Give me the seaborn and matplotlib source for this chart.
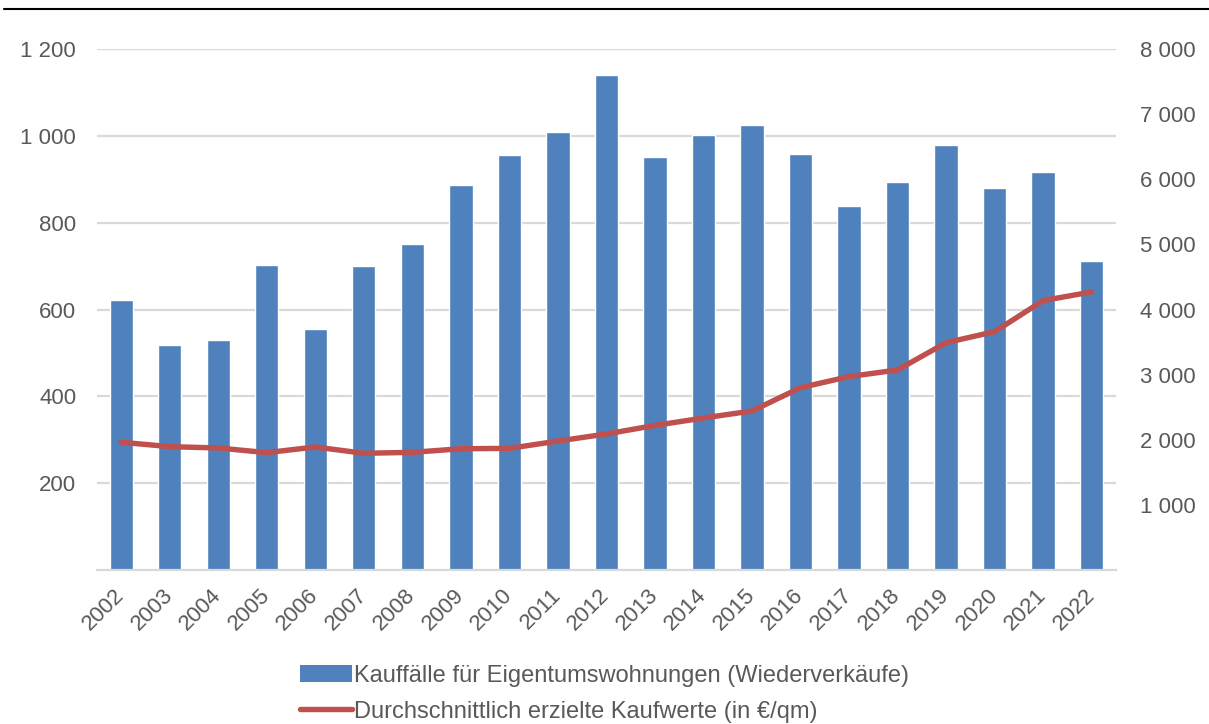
import numpy as np
import pandas as pd
import matplotlib
matplotlib.use("Agg")
import matplotlib.pyplot as plt
import seaborn as sns
from matplotlib.lines import Line2D
from matplotlib.patches import Patch

# =======================
# Data
# =======================
years = [str(y) for y in range(2002, 2023)]
sales = [621, 518, 529, 703, 555, 701, 752, 886, 956, 1008, 1141,
         952, 1002, 1025, 958, 839, 894, 978, 879, 917, 711]
prices = [1962, 1894, 1874, 1802, 1889, 1792, 1807, 1862, 1868, 1980, 2089,
          2220, 2334, 2442, 2800, 2970, 3072, 3491, 3660, 4137, 4270]
left_ticks = [200, 400, 600, 800, 1000, 1200]
right_ticks = [1000, 2000, 3000, 4000, 5000, 6000, 7000, 8000]
bar_label = "Kauffälle für Eigentumswohnungen (Wiederverkäufe)"
line_label = "Durchschnittlich erzielte Kaufwerte (in €/qm)"

df = pd.DataFrame({"year": years, "sales": sales, "price": prices})
df["pos"] = np.arange(len(df))

BLUE = "#4f81bd"
RED = "#c0504d"
GRID = "#d9d9d9"
TXT = "#595959"

sns.set_theme(style="white")
plt.rcParams["font.family"] = ["Liberation Sans", "DejaVu Sans"]


def fmt(v):
    return f"{v:,}".replace(",", " ")


# =======================
# Figure
# =======================
fig = plt.figure(figsize=(12.09, 7.24), dpi=100)
ax = fig.add_axes([0.0802, 0.2127, 0.8428, 0.7196])

sns.barplot(data=df, x="year", y="sales", color=BLUE, saturation=1,
            width=0.48, ax=ax, zorder=2)
ax.set_ylim(0, 1200)
ax.set_xlim(-0.5, len(years) - 0.5)
ax.set_yticks(left_ticks)
ax.set_yticklabels([fmt(t) for t in left_ticks], fontsize=16, color=TXT)
ax.yaxis.grid(True, color=GRID, linewidth=1.6, zorder=0)
ax.set_axisbelow(True)
ax.set_xlabel("")
ax.set_ylabel("")
for s in ["top", "left", "right"]:
    ax.spines[s].set_visible(False)
ax.spines["bottom"].set_color(GRID)
ax.spines["bottom"].set_linewidth(1.6)
ax.tick_params(axis="y", length=0, pad=15)
ax.tick_params(axis="x", length=0, pad=16)
plt.setp(ax.get_xticklabels(), rotation=45, ha="right", va="center",
         rotation_mode="anchor", fontsize=16, color=TXT)

ax2 = ax.twinx()
sns.lineplot(data=df, x="pos", y="price", color=RED, linewidth=3.9,
             ax=ax2, zorder=3)
ax2.set_ylim(0, 8000)
ax2.set_xlim(-0.5, len(years) - 0.5)
ax2.set_yticks(right_ticks)
ax2.set_yticklabels([fmt(t) for t in right_ticks], fontsize=16, color=TXT)
ax2.tick_params(axis="y", length=0, pad=17)
ax2.set_ylabel("")
ax2.grid(False)
for s in ax2.spines.values():
    s.set_visible(False)

# top rule line
fig.add_artist(Line2D([0.003, 1.0], [0.987, 0.987], color="black",
                      linewidth=1.5, transform=fig.transFigure))

handles = [Patch(facecolor=BLUE, edgecolor="none"),
           Line2D([0], [0], color=RED, linewidth=3.9, solid_capstyle="round")]
fig.legend(handles, [bar_label, line_label], loc="center",
           bbox_to_anchor=(0.5, 0.042), ncol=1, frameon=False,
           fontsize=17, handlelength=2.2, handletextpad=0.1,
           labelspacing=0.6, labelcolor=TXT)

fig.savefig("out.png", dpi=100)
